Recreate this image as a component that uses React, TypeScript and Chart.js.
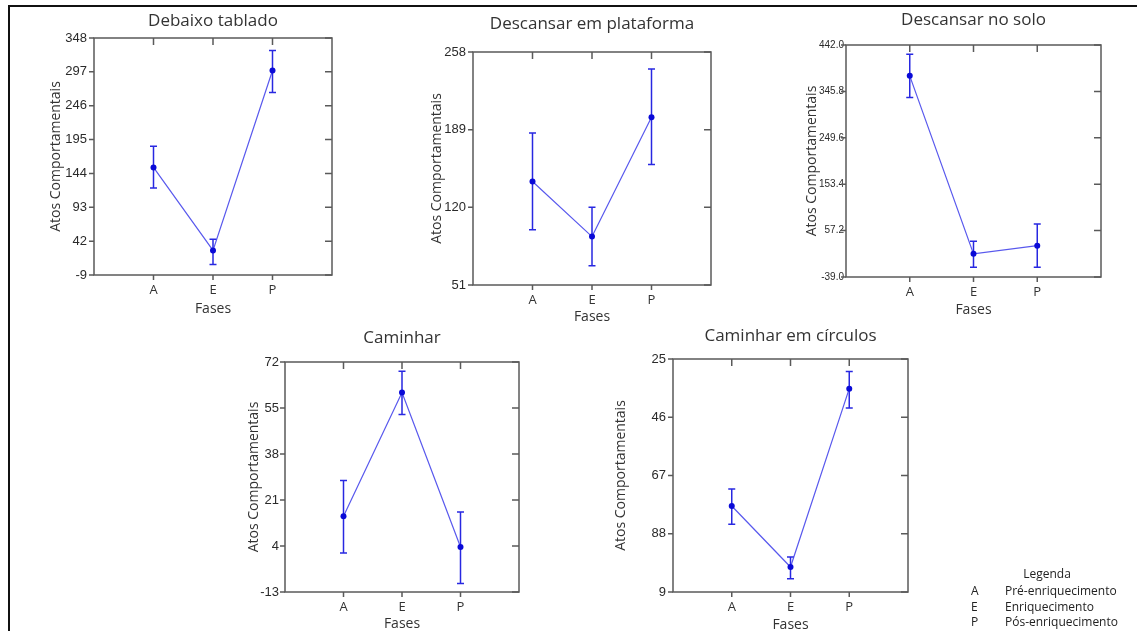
import React, { useEffect, useRef } from "react";
import { Chart, registerables } from "chart.js";
Chart.register(...registerables);

// ---------- data ----------
const phases = ["A", "E", "P"];
const phaseX = [1, 2, 3];

const debaixoMean = [153, 28, 299];
const debaixoLow = [122, 7, 266];
const debaixoHigh = [185, 45, 329];
const debaixoTicks = [-9, 42, 93, 144, 195, 246, 297, 348];
const debaixoTickLabels = ["-9", "42", "93", "144", "195", "246", "297", "348"];

const plataformaMean = [143, 94, 200];
const plataformaLow = [100, 68, 158];
const plataformaHigh = [186, 120, 243];
const plataformaTicks = [51, 120, 189, 258];
const plataformaTickLabels = ["51", "120", "189", "258"];

const soloMean = [378, 9, 26];
const soloLow = [333, -19, -19];
const soloHigh = [423, 35, 71];
const soloTicks = [-39, 57.2, 153.4, 249.6, 345.8, 442];
const soloTickLabels = ["-39.0", "57.2", "153.4", "249.6", "345.8", "442.0"];

const caminharMean = [15, 60.7, 3.6];
const caminharLow = [1.4, 52.6, -9.9];
const caminharHigh = [28.2, 68.6, 16.6];
const caminharTicks = [-13, 4, 21, 38, 55, 72];
const caminharTickLabels = ["-13", "4", "21", "38", "55", "72"];

const circulosMean = [78, 100, 35.7];
const circulosLow = [71.9, 96.4, 29.5];
const circulosHigh = [84.6, 104.2, 42.7];
const circulosTicks = [25, 46, 67, 88, 109];
const circulosTickLabels = ["25", "46", "67", "88", "9"];

const legendCodes = ["A", "E", "P"];
const legendNames = ["Pré-enriquecimento", "Enriquecimento", "Pós-enriquecimento"];

// ---------- layout ----------
type Panel = {
  title: string;
  mean: number[];
  low: number[];
  high: number[];
  ticks: number[];
  tickLabels: string[];
  reverse?: boolean;
  box: { l: number; t: number; r: number; b: number };
  titleY: number;
  yTitleX: number;
  xTitleY: number;
  tickFont: number;
  tickPad: number;
};

const panels: Panel[] = [
  {
    title: "Debaixo tablado", mean: debaixoMean, low: debaixoLow, high: debaixoHigh,
    ticks: debaixoTicks, tickLabels: debaixoTickLabels,
    box: { l: 94, t: 38, r: 332, b: 275 }, titleY: 21, yTitleX: 56, xTitleY: 309, tickFont: 13, tickPad: 7,
  },
  {
    title: "Descansar em plataforma", mean: plataformaMean, low: plataformaLow, high: plataformaHigh,
    ticks: plataformaTicks, tickLabels: plataformaTickLabels,
    box: { l: 473, t: 52, r: 711, b: 285 }, titleY: 24, yTitleX: 437, xTitleY: 317, tickFont: 13, tickPad: 7,
  },
  {
    title: "Descansar no solo", mean: soloMean, low: soloLow, high: soloHigh,
    ticks: soloTicks, tickLabels: soloTickLabels,
    box: { l: 846, t: 45, r: 1101, b: 277 }, titleY: 20, yTitleX: 812, xTitleY: 310, tickFont: 10, tickPad: 2,
  },
  {
    title: "Caminhar", mean: caminharMean, low: caminharLow, high: caminharHigh,
    ticks: caminharTicks, tickLabels: caminharTickLabels,
    box: { l: 285, t: 362, r: 519, b: 592 }, titleY: 338, yTitleX: 254, xTitleY: 624, tickFont: 13, tickPad: 6,
  },
  {
    title: "Caminhar em círculos", mean: circulosMean, low: circulosLow, high: circulosHigh,
    ticks: circulosTicks, tickLabels: circulosTickLabels, reverse: true,
    box: { l: 673, t: 359, r: 908, b: 592 }, titleY: 336, yTitleX: 621, xTitleY: 625, tickFont: 13, tickPad: 7,
  },
];

const LINE = "rgba(70,70,235,0.9)";
const POINT = "rgb(10,10,215)";
const ERR = "rgb(40,40,225)";
const FRAME = "#5a5a5a";
const TEXT = "#333333";

const PAD_L = 90, PAD_T = 45, PAD_R = 15, PAD_B = 42;

function PanelChart({ p }: { p: Panel }) {
  const ref = useRef<HTMLCanvasElement>(null);
  const W = p.box.r - p.box.l + PAD_L + PAD_R;
  const H = p.box.b - p.box.t + PAD_T + PAD_B;
  useEffect(() => {
    const overlay = {
      id: "overlay",
      beforeDatasetsDraw(chart: any) {
        const ctx = chart.ctx;
        const xs = chart.scales.x;
        const ys = chart.scales.y;
        ctx.save();
        ctx.strokeStyle = ERR;
        ctx.lineWidth = 1.5;
        p.mean.forEach((_m, i) => {
          const x = xs.getPixelForValue(phaseX[i]);
          const y1 = ys.getPixelForValue(p.low[i]);
          const y2 = ys.getPixelForValue(p.high[i]);
          ctx.beginPath();
          ctx.moveTo(x, y1);
          ctx.lineTo(x, y2);
          ctx.moveTo(x - 3.5, y1);
          ctx.lineTo(x + 3.5, y1);
          ctx.moveTo(x - 3.5, y2);
          ctx.lineTo(x + 3.5, y2);
          ctx.stroke();
        });
        ctx.restore();
      },
      afterDraw(chart: any) {
        const ctx = chart.ctx;
        const xs = chart.scales.x;
        const ys = chart.scales.y;
        const { left, top, right, bottom } = chart.chartArea;
        ctx.save();
        ctx.strokeStyle = FRAME;
        ctx.lineWidth = 1.5;
        ctx.strokeRect(left, top, right - left, bottom - top);
        ctx.beginPath();
        phaseX.forEach((v) => {
          const x = xs.getPixelForValue(v);
          ctx.moveTo(x, top);
          ctx.lineTo(x, top + 7);
          ctx.moveTo(x, bottom);
          ctx.lineTo(x, bottom + 5);
        });
        p.ticks.forEach((v) => {
          const y = ys.getPixelForValue(v);
          ctx.moveTo(left - 5, y);
          ctx.lineTo(left, y);
          ctx.moveTo(right - 7, y);
          ctx.lineTo(right, y);
        });
        ctx.stroke();

        ctx.fillStyle = TEXT;
        ctx.textAlign = "center";
        ctx.textBaseline = "middle";
        ctx.font = '17px "Open Sans"';
        ctx.fillText(p.title, (left + right) / 2, top - (p.box.t - p.titleY));
        ctx.font = '14px "Open Sans"';
        ctx.fillText("Fases", (left + right) / 2, bottom + (p.xTitleY - p.box.b));
        ctx.translate(left - (p.box.l - p.yTitleX), (top + bottom) / 2);
        ctx.rotate(-Math.PI / 2);
        ctx.fillText("Atos Comportamentais", 0, 0);
        ctx.restore();
      },
    };

    const chart = new Chart(ref.current as HTMLCanvasElement, {
      type: "line",
      data: {
        datasets: [
          {
            data: p.mean.map((m, i) => ({ x: phaseX[i], y: m })),
            borderColor: LINE,
            borderWidth: 1.2,
            pointRadius: 3,
            pointBackgroundColor: POINT,
            pointBorderColor: POINT,
            pointBorderWidth: 0,
            tension: 0,
            fill: false,
          },
        ],
      },
      options: {
        responsive: false,
        maintainAspectRatio: false,
        animation: false,
        layout: { padding: { left: 0, top: PAD_T, right: PAD_R, bottom: 0 } },
        plugins: { legend: { display: false }, tooltip: { enabled: false }, title: { display: false } },
        scales: {
          x: {
            type: "linear",
            min: 0,
            max: 4,
            afterBuildTicks: (s: any) => {
              s.ticks = phaseX.map((v) => ({ value: v }));
            },
            afterFit: (s: any) => {
              s.height = PAD_B;
            },
            ticks: {
              autoSkip: false,
              maxRotation: 0,
              padding: 7,
              color: TEXT,
              font: { family: "Open Sans", size: 13 },
              callback: (v: any) => phases[phaseX.indexOf(Number(v))],
            },
            grid: { display: false, drawTicks: false },
            border: { display: false },
          },
          y: {
            type: "linear",
            min: Math.min(...p.ticks),
            max: Math.max(...p.ticks),
            reverse: !!p.reverse,
            afterBuildTicks: (s: any) => {
              s.ticks = p.ticks.map((v) => ({ value: v }));
            },
            afterFit: (s: any) => {
              s.width = PAD_L;
            },
            ticks: {
              autoSkip: false,
              padding: p.tickPad,
              color: "#2a2a2a",
              font: { family: "Liberation Sans", size: p.tickFont },
              callback: (_v: any, i: number) => p.tickLabels[i],
            },
            grid: { display: false, drawTicks: false },
            border: { display: false },
          },
        },
      } as any,
      plugins: [overlay],
    });
    return () => chart.destroy();
  }, [p]);

  return (
    <canvas
      ref={ref}
      width={W}
      height={H}
      style={{ position: "absolute", left: p.box.l - PAD_L, top: p.box.t - PAD_T, width: W, height: H }}
    />
  );
}

export default function App() {
  const legendRows = [591, 607, 622];
  return (
    <div
      style={{
        position: "absolute",
        left: 0,
        top: 0,
        width: 1137,
        height: 631,
        overflow: "hidden",
        background: "#ffffff",
        fontFamily: '"Open Sans", sans-serif',
      }}
    >
      {panels.map((p, i) => (
        <PanelChart key={i} p={p} />
      ))}
      <div
        style={{
          position: "absolute",
          left: 8,
          top: 5,
          width: 1129,
          height: 626,
          borderTop: "2px solid #111",
          borderLeft: "2px solid #111",
          boxSizing: "border-box",
        }}
      />
      <div
        style={{
          position: "absolute",
          left: 1000,
          top: 566,
          width: 94,
          textAlign: "center",
          fontSize: 12,
          lineHeight: "16px",
          color: "#222",
        }}
      >
        Legenda
      </div>
      {legendCodes.map((c, i) => (
        <React.Fragment key={c}>
          <div
            style={{
              position: "absolute",
              left: 971,
              top: legendRows[i] - 8,
              fontSize: 12,
              lineHeight: "16px",
              color: "#222",
            }}
          >
            {c}
          </div>
          <div
            style={{
              position: "absolute",
              left: 1005,
              top: legendRows[i] - 8,
              fontSize: 12,
              lineHeight: "16px",
              color: "#222",
              whiteSpace: "nowrap",
            }}
          >
            {legendNames[i]}
          </div>
        </React.Fragment>
      ))}
    </div>
  );
}
